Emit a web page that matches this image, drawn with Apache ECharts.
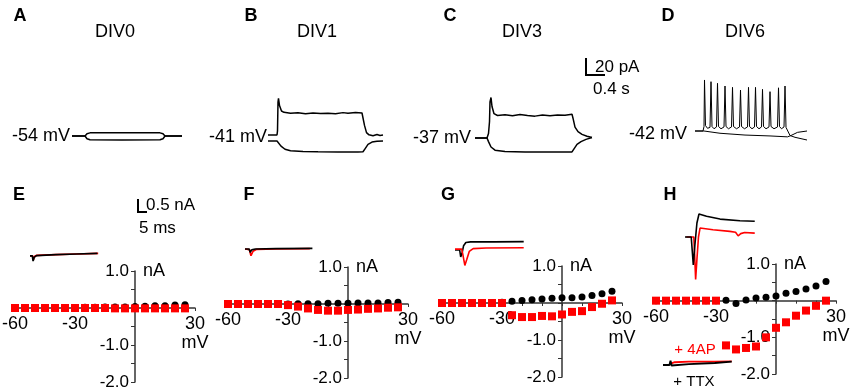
<!DOCTYPE html>
<html>
<head>
<meta charset="utf-8">
<script src="https://cdn.jsdelivr.net/npm/echarts@6.0.0/dist/echarts.min.js"></script>
<style>
  html, body { margin: 0; padding: 0; background: #fff; }
  #chart { width: 850px; height: 390px; }
</style>
</head>
<body>
<div id="chart"></div>
<script>
// ---- current-clamp traces (time s, deflection from rest in mV-ish units) ----
var traceA_up   = [[0,0],[0.26,0],[0.3,2.5],[0.36,3.5],[1.0,3.6],[1.76,3.5],[1.82,2.5],[1.86,0],[2.2,0]];
var traceA_down = [[0,0],[0.26,0],[0.3,-3],[0.36,-4.2],[1.0,-4.4],[1.76,-4.2],[1.82,-3],[1.86,0],[2.2,0]];

var traceB_up = [[0,3.3],[0.18,3.3],[0.19,8],[0.2,40],[0.21,44],[0.23,36],[0.27,30],[0.32,28.5],[0.45,27.5],[0.6,28],
  [0.75,27],[0.9,27.8],[1.05,27.2],[1.2,27.6],[1.35,27],[1.5,28.2],[1.6,27.5],[1.75,28.3],[1.88,27.8],[1.9,26],
  [1.93,14],[1.97,6],[2.02,3.5],[2.1,2.6],[2.18,3.8],[2.24,2.8],[2.3,3.3]];
var traceB_down = [[0,-3.3],[0.18,-3.3],[0.2,-4.5],[0.26,-9],[0.34,-12.5],[0.45,-14.2],[0.7,-15],[1.0,-15.3],[1.4,-15.5],
  [1.8,-15.5],[1.9,-15.3],[1.94,-12],[2.0,-7],[2.08,-4.5],[2.18,-3.5],[2.3,-3.3]];

var traceC_up = [[0,0],[0.24,0],[0.27,5],[0.29,18],[0.3,40],[0.32,45],[0.34,35],[0.38,27],[0.45,25],[0.6,25.8],
  [0.75,24.6],[0.9,26],[1.05,25],[1.2,24.3],[1.35,25.5],[1.5,24.8],[1.65,25.6],[1.8,25.3],[1.94,26.5],[1.96,22],
  [2.0,12],[2.06,7],[2.14,4],[2.24,2],[2.34,0.5]];
var traceC_down = [[0,0],[0.24,0],[0.27,-4],[0.32,-10],[0.4,-13.5],[0.6,-15],[1.0,-15.5],[1.5,-15.5],[1.94,-15.5],
  [1.98,-12],[2.04,-7],[2.12,-4],[2.22,-1.5],[2.34,0.5]];

var traceD_up = [[0,0],[0.16,0],[0.18,5],[0.19,56.7],[0.21,6],[0.25,3],[0.3,4],[0.32,54.8],[0.34,5],[0.38,2.5],[0.43,4.5],[0.45,53],
  [0.47,5],[0.52,2.5],[0.58,4.5],[0.6,50],[0.62,5],[0.67,2.5],[0.73,4.5],[0.75,48.5],[0.77,5],[0.83,2.5],[0.89,4.5],[0.91,45.5],[0.93,5],
  [0.99,2.5],[1.05,4.5],[1.07,48.5],[1.09,5],[1.14,2.5],[1.19,4.5],[1.21,48.5],[1.23,5],[1.28,2.5],[1.33,4.5],[1.35,46.3],[1.37,5],[1.42,2.5],[1.48,4.5],
  [1.5,43.7],[1.52,5],[1.58,2.5],[1.65,4.5],[1.67,48],[1.69,5],[1.73,2.5],[1.78,4.5],[1.8,50],[1.82,4],[1.9,-5],[2.0,-7],[2.24,-10]];
var traceD_down = [[0,0],[0.18,0],[0.5,-2.5],[1.0,-4.5],[1.5,-5.5],[1.85,-6.5],[1.92,-5],[2.05,-1.5],[2.24,0]];

// ---- I-V data (mV, nA) ----
var voltages = [-60,-55,-50,-45,-40,-35,-30,-25,-20,-15,-10,-5,0,5,10,15,20,25];
var ctrlE = [0,0,0,0,0,0,0.01,0.02,0.02,0.03,0.03,0.03,0.04,0.05,0.06,0.06,0.08,0.09];
var apE   = [0,0,0,0,0,0,0,0,0,0,-0.01,-0.01,-0.01,-0.01,-0.01,-0.01,-0.01,-0.01];
var ctrlF = [0,0,0,0,0,0,0,0.01,0.01,0.01,0.02,0.02,0.02,0.03,0.03,0.03,0.04,0.05];
var apF   = [0,0,0,0,0,0,-0.03,-0.07,-0.12,-0.16,-0.18,-0.18,-0.16,-0.15,-0.13,-0.12,-0.1,-0.09];
var ctrlG = [0,0,0,0,0,0,0.02,0.05,0.07,0.09,0.11,0.13,0.14,0.14,0.16,0.2,0.25,0.32];
var apG   = [0,0,0,0,0,0,0,-0.33,-0.38,-0.38,-0.35,-0.36,-0.31,-0.24,-0.22,-0.11,-0.02,0.07];
var ctrlH = [0,0,0,0,0,0,0,0.01,-0.08,0.02,0.07,0.09,0.13,0.2,0.25,0.32,0.4,0.52];
var apH   = [0,0,0,0,0,0,0,-1.22,-1.33,-1.29,-1.25,-1.0,-0.74,-0.59,-0.41,-0.27,-0.14,0];

// ---- inset current traces (ms, nA) ----
var insetE_black = [[0,-0.07],[0.9,-0.07],[1.2,-0.25],[1.6,-0.12],[2.5,-0.06],[10,-0.02],[18,0],[26,0.02]];
var insetE_red   = [[0,-0.07],[1.0,-0.07],[1.3,-0.2],[1.8,-0.08],[2.6,-0.05],[10,-0.02],[18,0],[26.3,0.02]];
var insetF_black = [[0,0],[1.6,0],[2.0,-0.12],[2.6,-0.03],[4,0],[12,0.01],[26,0.02]];
var insetF_red   = [[0,0],[1.7,-0.02],[2.3,-0.24],[3.1,-0.08],[4.5,-0.01],[12,0],[25,0.01]];
var insetG_black = [[0,0],[1.8,0],[2.2,-0.25],[2.7,-0.12],[3.3,0.15],[4.2,0.27],[6,0.29],[15,0.29],[26.5,0.3]];
var insetG_red   = [[0,0.03],[2.6,0.03],[3.0,-0.15],[3.8,-0.55],[4.5,-0.35],[5.5,-0.05],[7,0.05],[12,0.07],[26.5,0.08]];
var insetH_black = [[0,0],[2.4,0],[2.8,-0.5],[3.2,-1.0],[3.8,-0.3],[4.6,0.5],[5.4,0.82],[8.3,0.74],[13.5,0.64],[21.2,0.58],[26.9,0.56]];
var insetH_red   = [[0.5,0],[3.4,0],[3.7,-0.6],[4.1,-1.52],[4.6,-0.8],[5.2,0],[5.8,0.32],[10.8,0.26],[17.3,0.2],[19.5,0.17],[20.5,0.04],[21.5,0.12],[23,0.16],[26.9,0.14]];
var insetTTX_black = [[0,0],[2.5,0],[2.9,0.15],[3.3,-0.02],[4,0.02],[10,0.03],[20,0.07],[26.5,0.12]];
var insetTTX_red   = [[3,0.05],[4.5,0.1],[10,0.12],[20,0.12],[26.5,0.13]];

var FONT = '"Liberation Sans", Arial, sans-serif';
var RED = '#ff0000';

var grids = [], xAxes = [], yAxes = [], series = [];

function addTraceGrid(left, top, width, height, xmax, ymin, ymax, traces, lw) {
  var i = grids.length;
  grids.push({left: left, top: top, width: width, height: height, outerBoundsMode: 'none'});
  xAxes.push({type: 'value', gridIndex: i, min: 0, max: xmax, show: false});
  yAxes.push({type: 'value', gridIndex: i, min: ymin, max: ymax, show: false});
  traces.forEach(function (t) {
    series.push({
      type: 'line', xAxisIndex: i, yAxisIndex: i, data: t[0], symbol: 'none',
      lineStyle: {color: t[1], width: lw}, silent: true, clip: false
    });
  });
}

// axes cross at (0 mV, 0 nA); offsets move line, ticks and labels together
function addIVGrid(left, top, height, ctrl, ap) {
  var i = grids.length;
  grids.push({left: left, top: top, width: 180, height: height, outerBoundsMode: 'none'});
  xAxes.push({
    type: 'value', gridIndex: i, min: -60, max: 30, interval: 10,
    offset: -height * 2 / 3,
    axisLine: {onZero: false, lineStyle: {color: '#333', width: 1.5}},
    axisTick: {show: true, length: 3, lineStyle: {color: '#333'}},
    splitLine: {show: false},
    axisLabel: {
      margin: 7, color: '#000', fontSize: 18, fontFamily: FONT, lineHeight: 19,
      showMinLabel: true, showMaxLabel: true,
      formatter: function (v) {
        if (v === -60 || v === -30) return String(v);
        if (v === 30) return '30\nmV';
        return '';
      }
    }
  });
  yAxes.push({
    type: 'value', gridIndex: i, min: -2, max: 1, interval: 0.5,
    offset: -120,
    name: 'nA', nameLocation: 'end', nameGap: 0,
    nameTextStyle: {align: 'left', verticalAlign: 'middle', padding: [0, 0, 0, 8], color: '#000', fontSize: 18, fontFamily: FONT},
    axisLine: {onZero: false, lineStyle: {color: '#333', width: 1.5}},
    axisTick: {show: true, length: 4, lineStyle: {color: '#333'}},
    splitLine: {show: false},
    axisLabel: {
      margin: 6, color: '#000', fontSize: 17, fontFamily: FONT,
      formatter: function (v) { return (v !== 0 && Math.round(v) === v) ? v.toFixed(1) : ''; }
    }
  });
  series.push({
    type: 'scatter', xAxisIndex: i, yAxisIndex: i, symbol: 'circle', symbolSize: 7,
    itemStyle: {color: '#000', opacity: 1}, data: voltages.map(function (v, k) { return [v, ctrl[k]]; })
  });
  series.push({
    type: 'scatter', xAxisIndex: i, yAxisIndex: i, symbol: 'rect', symbolSize: 8,
    itemStyle: {color: RED, opacity: 1}, data: voltages.map(function (v, k) { return [v, ap[k]]; })
  });
}

// top row: 50 px per s, 0.9 px per unit, range -40..60
addTraceGrid(72, 82, 110, 90, 2.2, -40, 60, [[traceA_up, '#000'], [traceA_down, '#000']], 1.5);
addTraceGrid(268, 84, 115, 90, 2.3, -40, 60, [[traceB_up, '#000'], [traceB_down, '#000']], 1.5);
addTraceGrid(475, 84, 117.5, 90, 2.35, -40, 60, [[traceC_up, '#000'], [traceC_down, '#000']], 1.5);
addTraceGrid(695, 77, 112, 90, 2.24, -40, 60, [[traceD_up, '#000'], [traceD_down, '#000']], 1.0);

// I-V plots
addIVGrid(15, 271, 111, ctrlE, apE);
addIVGrid(228, 267, 111, ctrlF, apF);
addIVGrid(442, 266, 111, ctrlG, apG);
addIVGrid(656, 264, 110, ctrlH, apH);

// insets: 2.6 px per ms, 28 px per nA, range -1.7..1.0
addTraceGrid(30, 226, 70, 75.6, 27, -1.7, 1.0, [[insetE_red, RED], [insetE_black, '#000']], 1.7);
addTraceGrid(245, 221, 70, 75.6, 27, -1.7, 1.0, [[insetF_red, RED], [insetF_black, '#000']], 1.7);
addTraceGrid(455, 222, 70, 75.6, 27, -1.7, 1.0, [[insetG_black, '#000'], [insetG_red, RED]], 1.6);
addTraceGrid(685, 209, 70, 75.6, 27, -1.7, 1.0, [[insetH_red, RED], [insetH_black, '#000']], 1.6);
addTraceGrid(663, 337, 70, 75.6, 27, -1.7, 1.0, [[insetTTX_red, RED], [insetTTX_black, '#000']], 1.9);

function txt(s, x, y, opts) {
  opts = opts || {};
  return {
    type: 'text', x: x, y: y, z: 10,
    style: {
      text: s, fill: opts.color || '#000',
      font: (opts.bold ? 'bold ' : '') + (opts.size || 18) + 'px ' + FONT,
      align: opts.align || 'left', verticalAlign: 'middle'
    }
  };
}
function bar(points) {
  return {type: 'polyline', z: 10, shape: {points: points}, style: {stroke: '#000', lineWidth: 2, fill: null}};
}

var graphics = [
  txt('A', 20, 16, {bold: true, size: 18, align: 'center'}),
  txt('B', 251, 16, {bold: true, size: 18, align: 'center'}),
  txt('C', 450, 16, {bold: true, size: 18, align: 'center'}),
  txt('D', 668, 16, {bold: true, size: 18, align: 'center'}),
  txt('E', 19, 195, {bold: true, size: 18, align: 'center'}),
  txt('F', 249, 195, {bold: true, size: 18, align: 'center'}),
  txt('G', 448, 195, {bold: true, size: 18, align: 'center'}),
  txt('H', 670, 195, {bold: true, size: 18, align: 'center'}),
  txt('DIV0', 115, 32, {align: 'center'}),
  txt('DIV1', 317, 32, {align: 'center'}),
  txt('DIV3', 522, 32, {align: 'center'}),
  txt('DIV6', 745, 32, {align: 'center'}),
  txt('-54 mV', 70, 136, {align: 'right'}),
  txt('-41 mV', 267, 137, {align: 'right'}),
  txt('-37 mV', 471, 138, {align: 'right'}),
  txt('-42 mV', 687, 134, {align: 'right'}),
  bar([[586, 58], [586, 75], [605, 75]]),
  txt('20 pA', 595, 67, {size: 17}),
  txt('0.4 s', 593, 89, {size: 17}),
  bar([[138, 199], [138, 212], [147, 212]]),
  txt('0.5 nA', 146, 205, {size: 17}),
  txt('5 ms', 139, 228, {size: 17}),
  txt('+ 4AP', 695, 350, {size: 15, color: RED, align: 'center'}),
  txt('+ TTX', 694, 382, {size: 15, align: 'center'})
];

var chart = echarts.init(document.getElementById('chart'));
chart.setOption({
  animation: false,
  backgroundColor: '#fff',
  grid: grids,
  xAxis: xAxes,
  yAxis: yAxes,
  series: series,
  graphic: graphics
});
</script>
</body>
</html>
